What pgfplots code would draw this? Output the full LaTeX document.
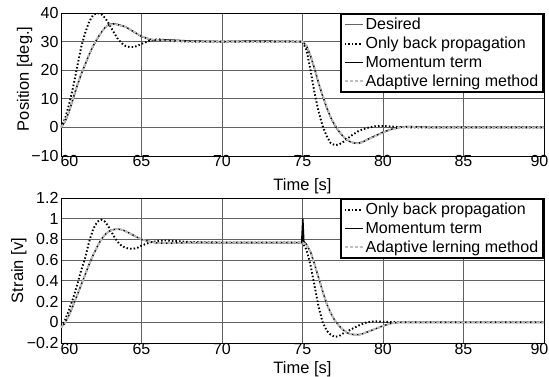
\documentclass[border=0pt]{standalone}
\usepackage{pgfplots}
\pgfplotsset{compat=1.18}
\usepackage{fontspec}
\setmainfont{Liberation Sans}

% common look of the two response panels
\pgfplotsset{
  resp/.style={
    scale only axis,
    width=483pt,
    xmin=60, xmax=90,
    xtick={60,65,70,75,80,85,90},
    % end labels pulled inside the frame
    xticklabels={\makebox[0pt]{60\kern-17pt},65,70,75,80,85,\makebox[0pt]{\kern-9pt90}},
    grid=major,
    major grid style={draw=black!62, line width=0.8pt},
    axis line style={black, line width=0.9pt},
    major tick length=0pt,
    tick label style={font=\fontsize{16}{17}\selectfont},
    yticklabel style={xshift=1pt},
    label style={font=\fontsize{16.5}{17}\selectfont},
    xlabel={Time [s]},
    legend cell align=left,
    legend image code/.code={\draw[##1] (0pt,0pt) -- (18pt,0pt);},
    legend style={at={(1,1)}, anchor=north east, draw=black, line width=1.6pt,
      fill=white, inner xsep=3pt, inner ysep=2.2pt, row sep=2pt,
      font=\fontsize{16}{17}\selectfont},
  },
  desired/.style={draw=black!60, line width=0.6pt},
  onlybp/.style={draw=black, line width=1.9pt, dash pattern=on 1.5pt off 2.1pt},
  momentum/.style={draw=black, line width=1.5pt},
  adaptive/.style={draw=gray!50, line width=1.8pt, dash pattern=on 3.5pt off 1.5pt},
}

\begin{document}
\begin{tikzpicture}
\useasboundingbox (0,0) rectangle (549pt,376pt);

% ---------------- joint position ----------------
\begin{axis}[resp,
  at={(61pt,220pt)}, anchor=south west,
  height=143pt,
  ymin=-10, ymax=40,
  ytick={-10,0,10,20,30,40},
  yticklabels={−10,0,10,20,30,40},
  xticklabel style={yshift=4pt},
  ylabel={Position [deg.]},
  ylabel style={at={(axis description cs:-0.0755,0.54)}, anchor=center},
  xlabel style={at={(axis description cs:0.5,0)}, anchor=center, yshift=-30pt},
]
\addplot[desired] coordinates {
 (60,0) (60.25,2.3) (60.5,5.8) (60.75,10.3) (61,14.8) (61.25,18.8)
 (61.5,22.3) (61.75,25.8) (62,28.8) (62.25,31.2) (62.5,33.3) (62.75,35)
 (63,35.9) (63.25,36.1) (63.5,35.9) (64,35.1) (64.5,33.5) (65,31.9)
 (65.5,30.9) (66,30.4) (67,30.3) (68,30) (75,30) (75.25,28.6) (75.5,25.2)
 (75.75,20.7) (76,15.7) (76.25,11.2) (76.5,7.2) (76.75,3.7) (77,1)
 (77.25,-1.2) (77.5,-2.9) (77.75,-4.2) (78,-5) (78.25,-5.5) (78.5,-5.5)
 (78.75,-5.1) (79,-4.4) (79.5,-3.1) (80,-1.7) (80.5,-0.7) (81,0) (82,0.1) (83,0) (90,0)};
\addlegendentry{Desired}
\addplot[onlybp] coordinates {
 (60,0) (60.25,3) (60.5,8) (60.75,14) (61,21) (61.25,28) (61.5,33)
 (61.75,37) (62,39.3) (62.25,40) (62.5,39.6) (62.75,38.2) (63,36)
 (63.25,33.5) (63.5,31.2) (63.75,29.5) (64,28.5) (64.25,28.1) (64.5,28.1)
 (64.75,28.5) (65,29.2) (65.5,30.3) (66,30.8) (66.5,30.6) (67,30.2)
 (68,30) (75,30) (75.25,27) (75.5,20) (75.75,12) (76,5.5) (76.25,0.5)
 (76.5,-3) (76.75,-5.5) (77,-6.2) (77.25,-6) (77.5,-5.2) (78,-3)
 (78.5,-1.2) (79,-0.2) (79.5,0.4) (80,0.5) (80.5,0.3) (81,0.1) (82,0) (90,0)};
\addlegendentry{Only back propagation}
\addplot[momentum] coordinates {
 (60,0) (60.25,2) (60.5,5.5) (60.75,10) (61,14.5) (61.25,18.5) (61.5,22)
 (61.75,25.5) (62,28.5) (62.25,31) (62.5,33.2) (62.75,35) (63,36)
 (63.25,36.2) (63.5,36) (64,35.2) (64.5,33.5) (65,31.8) (65.5,30.8)
 (66,30.4) (66.5,30.6) (67,30.5) (68,30.2) (70,30) (72,30.2) (75,30)
 (75.25,28.5) (75.5,25) (75.75,20.5) (76,15.5) (76.25,11) (76.5,7)
 (76.75,3.5) (77,0.8) (77.25,-1.3) (77.5,-3) (77.75,-4.3) (78,-5.1)
 (78.25,-5.5) (78.5,-5.5) (78.75,-5.1) (79,-4.3) (79.5,-3) (80,-1.7)
 (80.5,-0.7) (81,0) (81.5,0.3) (82,0.2) (83,0) (90,0)};
\addlegendentry{Momentum term}
\addplot[adaptive] coordinates {
 (60,0) (60.25,2.2) (60.5,5.7) (60.75,10.2) (61,14.7) (61.25,18.7)
 (61.5,22.2) (61.75,25.7) (62,28.7) (62.25,31.2) (62.5,33.3) (62.75,35)
 (63,35.9) (63.25,36.1) (63.5,35.9) (64,35.1) (64.5,33.6) (65,31.9)
 (65.5,30.9) (66,30.5) (67,30.3) (68,30) (75,30) (75.25,28.7) (75.5,25.3)
 (75.75,20.8) (76,15.8) (76.25,11.3) (76.5,7.3) (76.75,3.8) (77,1.1)
 (77.25,-1.1) (77.5,-2.9) (77.75,-4.2) (78,-5) (78.25,-5.5) (78.5,-5.6)
 (78.75,-5.2) (79,-4.4) (79.5,-3.1) (80,-1.8) (80.5,-0.8) (81,-0.1)
 (81.5,0.2) (82,0.1) (83,0) (90,0)};
\addlegendentry{Adaptive lerning method}
\end{axis}

% ---------------- strain ----------------
\begin{axis}[resp,
  at={(61pt,33pt)}, anchor=south west,
  height=145pt,
  ymin=-0.2, ymax=1.2,
  ytick={-0.2,0,0.2,0.4,0.6,0.8,1,1.2},
  yticklabels={−0.2,0,0.2,0.4,0.6,0.8,1,1.2},
  xticklabel style={yshift=3pt},
  ylabel={Strain [v]},
  ylabel style={at={(axis description cs:-0.087,0.5)}, anchor=center},
  xlabel style={at={(axis description cs:0.5,0)}, anchor=center, yshift=-26.5pt},
]
\addplot[onlybp] coordinates {
 (60,-0.04) (60.25,0.02) (60.5,0.12) (60.75,0.23) (61,0.36) (61.25,0.5)
 (61.5,0.62) (61.75,0.78) (62,0.9) (62.25,0.97) (62.5,0.99) (62.75,0.97)
 (63,0.91) (63.25,0.84) (63.5,0.78) (63.75,0.74) (64,0.72) (64.25,0.71)
 (64.5,0.71) (64.75,0.72) (65,0.74) (65.5,0.77) (66,0.785) (66.5,0.79)
 (67,0.785) (68,0.775) (70,0.77) (75,0.77) (75.25,0.7) (75.5,0.55)
 (75.75,0.35) (76,0.15) (76.25,0) (76.5,-0.08) (76.75,-0.12) (77,-0.14)
 (77.25,-0.135) (77.5,-0.11) (78,-0.07) (78.5,-0.03) (79,0) (79.5,0.01)
 (80,0.005) (81,0) (90,0)};
\addlegendentry{Only back propagation}
\addplot[momentum] coordinates {
 (60,-0.05) (60.25,-0.01) (60.5,0.07) (60.75,0.16) (61,0.26) (61.25,0.36)
 (61.5,0.46) (61.75,0.56) (62,0.65) (62.25,0.73) (62.5,0.8) (62.75,0.85)
 (63,0.88) (63.25,0.895) (63.5,0.9) (63.75,0.895) (64,0.88) (64.25,0.86)
 (64.5,0.84) (64.75,0.82) (65,0.8) (65.5,0.78) (66,0.765) (67,0.765)
 (68,0.77) (74.95,0.77) (75.02,1.0) (75.08,0.78) (75.25,0.75) (75.5,0.68)
 (75.75,0.56) (76,0.43) (76.25,0.3) (76.5,0.18) (76.75,0.09) (77,0.02)
 (77.25,-0.03) (77.5,-0.07) (77.75,-0.1) (78,-0.115) (78.25,-0.12)
 (78.5,-0.12) (78.75,-0.11) (79,-0.095) (79.5,-0.065) (80,-0.035)
 (80.5,-0.01) (81,0) (90,0)};
\addlegendentry{Momentum term}
\addplot[adaptive] coordinates {
 (60,-0.05) (60.25,-0.01) (60.5,0.07) (60.75,0.16) (61,0.26) (61.25,0.36)
 (61.5,0.46) (61.75,0.56) (62,0.65) (62.25,0.73) (62.5,0.8) (62.75,0.85)
 (63,0.88) (63.25,0.895) (63.5,0.9) (63.75,0.895) (64,0.88) (64.25,0.86)
 (64.5,0.84) (64.75,0.82) (65,0.8) (65.5,0.78) (66,0.765) (67,0.765)
 (68,0.77) (75,0.77) (75.25,0.75) (75.5,0.68) (75.75,0.56) (76,0.43)
 (76.25,0.3) (76.5,0.18) (76.75,0.09) (77,0.02) (77.25,-0.03) (77.5,-0.07)
 (77.75,-0.1) (78,-0.115) (78.25,-0.12) (78.5,-0.12) (78.75,-0.11)
 (79,-0.095) (79.5,-0.065) (80,-0.035) (80.5,-0.01) (81,0) (90,0)};
\addlegendentry{Adaptive lerning method}
\end{axis}
\end{tikzpicture}
\end{document}
